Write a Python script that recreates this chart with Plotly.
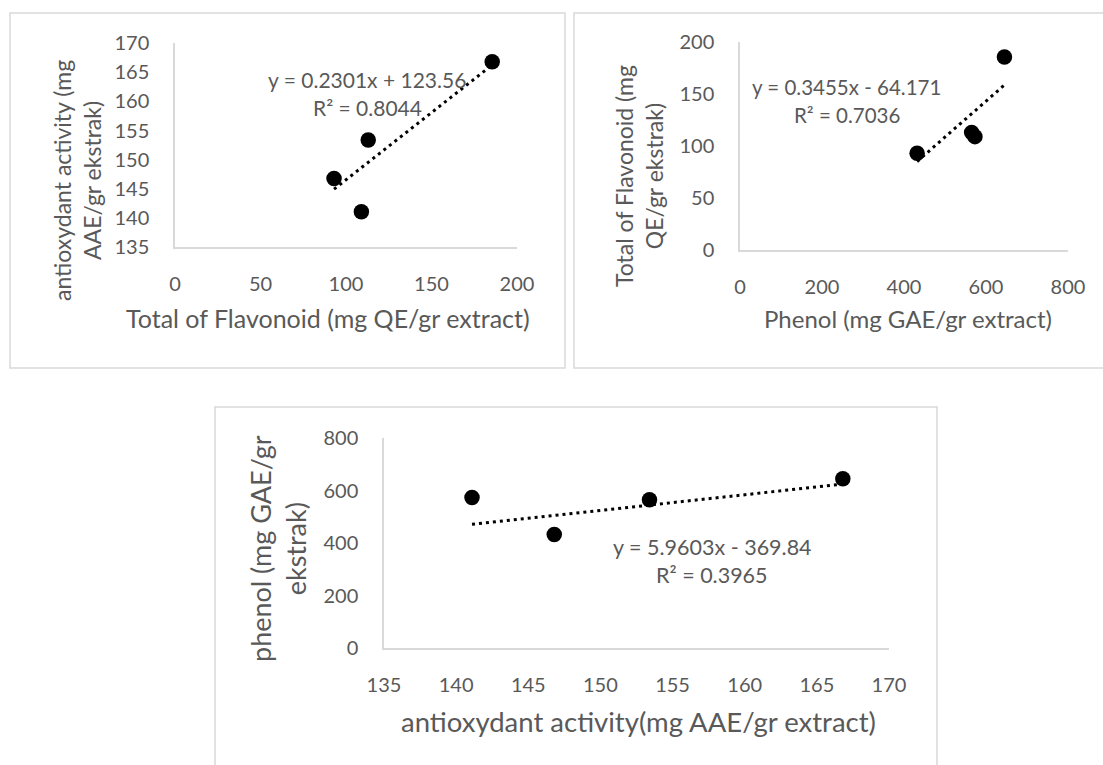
import plotly.graph_objects as go

# ---- data ----
flavonoid = [93, 113, 109, 185.5]        # mg QE / gr extract
antioxidant = [146.8, 153.4, 141.1, 166.8]  # mg AAE / gr extract
phenol = [432, 565, 573, 645]            # mg GAE / gr extract

# trendline coefficients shown on the chart (slope, intercept)
trend1 = (0.2301, 123.56)
trend2 = (0.3455, -64.171)
trend3 = (5.9603, -369.84)

eq1 = ["y = 0.2301x + 123.56", "R² = 0.8044"]
eq2 = ["y = 0.3455x - 64.171", "R² = 0.7036"]
eq3 = ["y = 5.9603x - 369.84", "R² = 0.3965"]

ticks1_x = [0, 50, 100, 150, 200]
ticks1_y = [135, 140, 145, 150, 155, 160, 165, 170]
ticks2_x = [0, 200, 400, 600, 800]
ticks2_y = [0, 50, 100, 150, 200]
ticks3_x = [135, 140, 145, 150, 155, 160, 165, 170]
ticks3_y = [0, 200, 400, 600, 800]

W, H = 1103, 765
FONT = "Lato"
TXT = "#595959"
AX = "#d9d9d9"


def px(x):
    return x / W


def py(y):
    return 1 - y / H


fig = go.Figure()


def add_panel(xs, ys, trend, xa, ya):
    fig.add_trace(go.Scatter(
        x=xs, y=ys, mode="markers", xaxis=xa, yaxis=ya,
        marker=dict(color="black", size=15.5), showlegend=False,
        hoverinfo="skip", cliponaxis=False))
    lo, hi = min(xs), max(xs)
    fig.add_trace(go.Scatter(
        x=[lo, hi], y=[trend[0] * lo + trend[1], trend[0] * hi + trend[1]],
        mode="lines", xaxis=xa, yaxis=ya,
        line=dict(color="black", width=3, dash="3px,4px"),
        showlegend=False, hoverinfo="skip"))


add_panel(flavonoid, antioxidant, trend1, "x", "y")
add_panel(phenol, flavonoid, trend2, "x2", "y2")
add_panel(antioxidant, phenol, trend3, "x3", "y3")


def axis(domain, rng, tickvals, anchor, standoff):
    return dict(
        domain=domain, range=rng, tickvals=tickvals, anchor=anchor,
        showline=True, linecolor=AX, linewidth=1.5, showgrid=False,
        zeroline=False, ticks="", fixedrange=True, automargin=False,
        tickfont=dict(family=FONT, size=20, color=TXT),
        ticklabelstandoff=standoff,
    )


fig.update_layout(
    template="none",
    width=W, height=H,
    margin=dict(l=0, r=0, t=0, b=0, pad=0, autoexpand=False),
    paper_bgcolor="white", plot_bgcolor="white", showlegend=False,
    xaxis=axis([px(175), px(517)], [0, 200], ticks1_x, "y", 18),
    yaxis=axis([py(247.3), py(43)], [135, 170], ticks1_y, "x", 20),
    xaxis2=axis([px(740), px(1068)], [0, 800], ticks2_x, "y2", 18),
    yaxis2=axis([py(250), py(42)], [0, 200], ticks2_y, "x2", 20),
    xaxis3=axis([px(384), px(889)], [135, 170], ticks3_x, "y3", 18),
    yaxis3=axis([py(648), py(438)], [0, 800], ticks3_y, "x3", 20),
)

# panel borders
for (x0, y0, x1, y1) in [(10, 13, 565, 368), (574, 13, 1110, 368), (215, 407, 937, 780)]:
    fig.add_shape(type="rect", xref="paper", yref="paper",
                  x0=px(x0), x1=px(x1), y0=py(y1), y1=py(y0),
                  line=dict(color=AX, width=1.5), layer="below")


def ann(text, x, y, size, angle=0):
    fig.add_annotation(text=text, x=px(x), y=py(y), xref="paper", yref="paper",
                       showarrow=False, xanchor="center", yanchor="middle",
                       textangle=angle, font=dict(family=FONT, size=size, color=TXT))


# axis titles
ann("Total of Flavonoid (mg QE/gr extract)", 328, 318, 25)
ann("antioxydant activity (mg<br>AAE/gr ekstrak)", 77, 181, 23, -90)
ann("Phenol (mg GAE/gr extract)", 908, 318, 24)
ann("Total of Flavonoid (mg<br>QE/gr ekstrak)", 639, 176, 23, -90)
ann("antioxydant activity(mg AAE/gr extract)", 639, 721, 27.5)
ann("phenol (mg GAE/gr<br>ekstrak)", 278, 549, 27, -90)

# equations
ann(eq1[0], 367, 80, 21)
ann(eq1[1], 367, 108, 21)
ann(eq2[0], 846, 87, 20.5)
ann(eq2[1], 847, 115, 20.5)
ann(eq3[0], 712, 547, 21.5)
ann(eq3[1], 712, 575, 21.5)

fig.write_html(
    "out.html",
    config={"displayModeBar": False},
    post_script="document.body.style.margin='0';document.body.style.overflow='hidden';",
)
